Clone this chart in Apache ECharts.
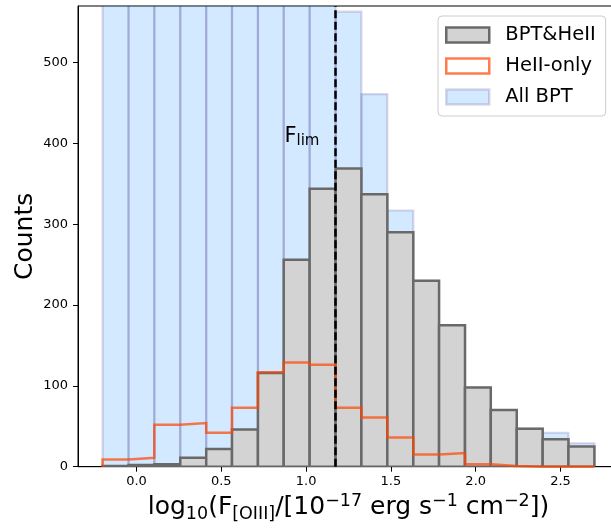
<!DOCTYPE html>
<html><head><meta charset="utf-8">
<script src="https://cdn.jsdelivr.net/npm/echarts@6/dist/echarts.min.js"></script>
<style>html,body{margin:0;padding:0;background:#fff}#c{width:611px;height:528px}</style>
</head><body><div id="c"></div>
<script>
// Histogram bin edges (log10 flux)
const binEdges = [-0.2, -0.047, 0.105, 0.258, 0.411, 0.563, 0.716, 0.868, 1.021, 1.174,
                  1.326, 1.479, 1.632, 1.784, 1.937, 2.089, 2.242, 2.395, 2.547, 2.7];
// Counts per bin
const allBPT   = [640, 800, 930, 1020, 1090, 1100, 1040, 900, 720, 563, 461, 317, 230, 175, 98, 70, 47, 42, 29];
const bptHeII  = [1, 2, 3, 11, 22, 46, 116, 256, 344, 369, 337, 290, 230, 175, 98, 70, 47, 34, 25];
const heIIOnly = [9, 11, 52, 54, 42, 73, 117, 129, 126, 73, 61, 36, 15, 17, 3, 1, 0, 0, 0];
const xTicks = [0, 0.5, 1.0, 1.5, 2.0, 2.5];
const yTicks = [0, 100, 200, 300, 400, 500];
const fLim = 1.173;
const fLimLabelPos = [0.872, 393];
const seriesNames = ['BPT&HeII', 'HeII-only', 'All BPT'];

const FONT = 'DejaVu Sans';
const BLUE_FILL = 'rgba(30,144,255,0.2)', BLUE_EDGE = 'rgba(60,40,130,0.18)';
const GRAY_FILL = '#d3d3d3', GRAY_EDGE = '#696969';
const ORANGE = 'rgba(255,69,0,0.7)';

function barData(vals) { return vals.map((v, i) => [binEdges[i], binEdges[i + 1], v]); }
function stepData(vals) {
  const pts = [[binEdges[0], 0]];
  vals.forEach((v, i) => { pts.push([binEdges[i], v]); pts.push([binEdges[i + 1], v]); });
  pts.push([binEdges[binEdges.length - 1], 0]);
  return pts;
}
function rectRender(fill, stroke, lw) {
  return function (params, api) {
    const p0 = api.coord([api.value(0), api.value(2)]);
    const p1 = api.coord([api.value(1), 0]);
    const cs = params.coordSys;
    const shape = echarts.graphic.clipRectByRect(
      { x: p0[0], y: p0[1], width: p1[0] - p0[0], height: p1[1] - p0[1] },
      { x: cs.x, y: cs.y - 6, width: cs.width, height: cs.height + 6 });
    if (!shape) return null;
    return {
      type: 'rect', shape: shape,
      style: { fill: fill, stroke: stroke, lineWidth: lw },
      clipPath: { type: 'rect', shape: { x: cs.x, y: cs.y, width: cs.width, height: cs.height } }
    };
  };
}

const chart = echarts.init(document.getElementById('c'), null, { renderer: 'canvas' });
const option = {
  animation: false,
  backgroundColor: '#fff',
  grid: { left: 78, top: 6, right: -8, bottom: 61.3, outerBoundsMode: 'none', containLabel: false,
          show: true, borderColor: '#000', borderWidth: 1, backgroundColor: 'transparent' },
  legend: {
    orient: 'vertical', left: 438, top: 16,
    backgroundColor: 'rgba(255,255,255,0.8)', borderColor: '#cccccc', borderWidth: 1, borderRadius: 4,
    padding: [9, 10, 9, 7], itemWidth: 43, itemHeight: 15, itemGap: 11,
    textStyle: { fontFamily: FONT, fontSize: 19.5, color: '#000', padding: [0, 0, 0, 11] },
    data: [
      { name: seriesNames[0], icon: 'rect', itemStyle: { color: GRAY_FILL, borderColor: GRAY_EDGE, borderWidth: 2.5 } },
      { name: seriesNames[1], icon: 'rect', itemStyle: { color: '#fff', borderColor: ORANGE, borderWidth: 2.5 } },
      { name: seriesNames[2], icon: 'rect', itemStyle: { color: BLUE_FILL, borderColor: BLUE_EDGE, borderWidth: 2.5 } }
    ]
  },
  xAxis: {
    type: 'value', min: -0.345, max: 2.845,
    splitLine: { show: false },
    axisLine: { show: true, onZero: false, lineStyle: { color: '#000', width: 1 } },
    axisTick: { show: true, length: 5, lineStyle: { color: '#000' }, customValues: xTicks },
    axisLabel: { customValues: xTicks, formatter: v => v.toFixed(1), fontFamily: FONT, fontSize: 13, color: '#000', margin: 8 },
    name: '{n|log}{sb|10}{n|(F}{sb|[OIII]}{n|/[10}{sp|\u221217}{n| erg s}{sp|\u22121}{n| cm}{sp|\u22122}{n|])}',
    nameLocation: 'middle', nameGap: 25, nameMoveOverlap: false,
    nameTextStyle: {
      fontFamily: FONT, color: '#000',
      rich: {
        n: { fontFamily: FONT, fontSize: 25, color: '#000' },
        sb: { fontFamily: FONT, fontSize: 17.5, color: '#000', padding: [14, 0, 0, 0] },
        sp: { fontFamily: FONT, fontSize: 17.5, color: '#000', padding: [0, 0, 12, 0] }
      }
    }
  },
  yAxis: {
    type: 'value', min: 0, max: 570,
    splitLine: { show: false },
    axisLine: { show: true, onZero: false, lineStyle: { color: '#000', width: 1 } },
    axisTick: { show: true, length: 5, lineStyle: { color: '#000' }, customValues: yTicks },
    axisLabel: { customValues: yTicks, fontFamily: FONT, fontSize: 13, color: '#000', margin: 10 },
    name: 'Counts', nameLocation: 'middle', nameGap: 40, nameRotate: 90, nameMoveOverlap: false,
    nameTextStyle: { fontFamily: FONT, fontSize: 25, color: '#000' }
  },
  series: [
    {
      name: seriesNames[2], type: 'custom', z: 1, clip: true,
      renderItem: rectRender(BLUE_FILL, BLUE_EDGE, 2.2),
      encode: { x: [0, 1], y: 2 },
      itemStyle: { color: BLUE_FILL, borderColor: BLUE_EDGE },
      data: barData(allBPT)
    },
    {
      name: seriesNames[0], type: 'custom', z: 2, clip: true,
      renderItem: rectRender(GRAY_FILL, GRAY_EDGE, 2.5),
      encode: { x: [0, 1], y: 2 },
      itemStyle: { color: GRAY_FILL, borderColor: GRAY_EDGE },
      data: barData(bptHeII)
    },
    {
      name: seriesNames[1], type: 'line', z: 3, showSymbol: false, symbol: 'none',
      lineStyle: { color: ORANGE, width: 2.5, join: 'miter' },
      itemStyle: { color: ORANGE },
      data: stepData(heIIOnly),
      markLine: {
        silent: true, symbol: ['none', 'none'], z: 5,
        label: { show: false },
        lineStyle: { color: '#000', width: 2.5, type: [8, 3.5] },
        data: [{ xAxis: fLim }]
      }
    }
  ]
};
chart.setOption(option);
const p = chart.convertToPixel({ xAxisIndex: 0, yAxisIndex: 0 }, fLimLabelPos);
chart.setOption({
  graphic: [{
    type: 'text', x: p[0], y: p[1], z: 10,
    style: {
      text: '{f|F}{s|lim}', align: 'left', verticalAlign: 'bottom',
      rich: {
        f: { fontFamily: FONT, fontSize: 21, fill: '#000', color: '#000' },
        s: { fontFamily: FONT, fontSize: 15, fill: '#000', color: '#000', padding: [11, 0, 0, 0] }
      }
    }
  }]
});
</script>
</body></html>
